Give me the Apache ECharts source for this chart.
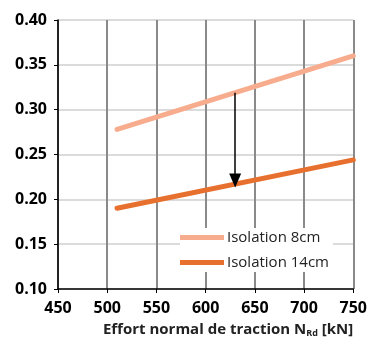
<!DOCTYPE html>
<html>
<head>
<meta charset="utf-8">
<script src="https://cdn.jsdelivr.net/npm/echarts@6/dist/echarts.min.js"></script>
<style>
html,body{margin:0;padding:0;background:#fff;}
#chart{width:370px;height:341px;}
</style>
</head>
<body>
<div id="chart"></div>
<script>
// Tensile force N_Rd [kN] against thermal coefficient
const forces = [510, 750];
const iso8 = [0.278, 0.360];
const iso14 = [0.190, 0.244];
const seriesNames = ['Isolation 8cm', 'Isolation 14cm'];
// arrow showing the drop from 8cm to 14cm insulation
const arrowX = 630;
const arrowFrom = 0.319;
const arrowTo = 0.221;

const FONT = '"Open Sans", Lato, sans-serif';

const chart = echarts.init(document.getElementById('chart'));
chart.setOption({
  animation: false,
  backgroundColor: '#fff',
  grid: { left: 58, right: 14, top: 20, bottom: 52, containLabel: false },
  legend: {
    data: seriesNames,
    orient: 'vertical',
    left: 180, top: 228,
    itemWidth: 44, itemHeight: 5, itemGap: 10,
    backgroundColor: '#fff',
    padding: [2, 4, 2, 0],
    icon: 'rect',
    textStyle: { fontFamily: FONT, fontSize: 15, color: '#222', padding: [0, 0, 0, -2] }
  },
  xAxis: {
    type: 'value', min: 450, max: 750, interval: 50,
    name: '{b|Effort normal de traction N}{s|Rd}{b| [kN]}',
    nameLocation: 'end', nameGap: 0,
    nameTextStyle: {
      align: 'right', verticalAlign: 'top', padding: [32, 0, 0, 0],
      rich: {
        b: { fontFamily: FONT, fontWeight: 'bold', fontSize: 15, color: '#222' },
        s: { fontFamily: FONT, fontWeight: 'bold', fontSize: 9, color: '#222', padding: [8, 0, 0, 0] }
      }
    },
    axisLine: { lineStyle: { color: '#000', width: 1.5 } },
    axisTick: { show: true, length: 4, lineStyle: { color: '#000' } },
    axisLabel: { fontFamily: FONT, fontWeight: 'bold', fontSize: 16, color: '#000', margin: 11 },
    splitLine: { show: true, lineStyle: { color: '#8a8a8a', width: 2 } }
  },
  yAxis: {
    type: 'value', min: 0.10, max: 0.40, interval: 0.05,
    axisLine: { show: true, lineStyle: { color: '#000', width: 1.5 } },
    axisTick: { show: true, length: 4, lineStyle: { color: '#000' } },
    axisLabel: {
      fontFamily: FONT, fontWeight: 'bold', fontSize: 16, color: '#000', margin: 11,
      formatter: v => v.toFixed(2)
    },
    splitLine: { show: true, lineStyle: { color: '#cfcfcf', width: 1.5 } }
  },
  series: [
    {
      name: seriesNames[0], type: 'line', showSymbol: false,
      data: forces.map((f, i) => [f, iso8[i]]),
      lineStyle: { color: '#F8AC8E', width: 5, cap: 'round' },
      itemStyle: { color: '#F8AC8E' },
      z: 3
    },
    {
      name: seriesNames[1], type: 'line', showSymbol: false,
      data: forces.map((f, i) => [f, iso14[i]]),
      lineStyle: { color: '#E8702E', width: 5, cap: 'round' },
      itemStyle: { color: '#E8702E' },
      z: 3,
      markLine: {
        silent: true,
        symbol: ['none', 'triangle'],
        symbolSize: [12, 14],
        label: { show: false },
        lineStyle: { color: '#000', width: 1.5, type: 'solid' },
        data: [[{ coord: [arrowX, arrowFrom] }, { coord: [arrowX, arrowTo] }]]
      }
    }
  ]
});
</script>
</body>
</html>
